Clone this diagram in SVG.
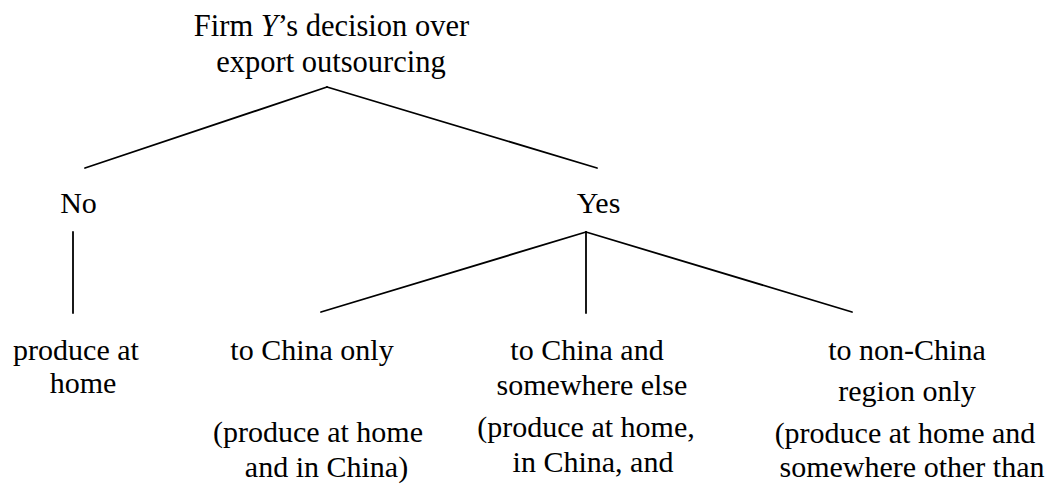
<svg xmlns="http://www.w3.org/2000/svg" width="1059" height="484" viewBox="0 0 1059 484">
<style>
text{font-family:"Liberation Serif","Times New Roman",serif;fill:#000;text-anchor:middle;font-size:30px}
.t{font-size:30.5px}
line{stroke:#000;stroke-width:1.8;stroke-linecap:round}
</style>
<rect width="1059" height="484" fill="#fff"/>
<g id="root">
<text class="t" x="331.5" y="36">Firm <tspan font-style="italic">Y</tspan>’s decision over</text>
<text class="t" x="331" y="72">export outsourcing</text>
</g>
<g id="no">
<text x="78.5" y="213">No</text>
</g>
<g id="yes">
<text x="598.5" y="213">Yes</text>
</g>
<g id="home">
<text x="76" y="360">produce at</text>
<text x="83" y="393">home</text>
</g>
<g id="china-only">
<text x="312" y="360">to China only</text>
<text x="318" y="442">(produce at home</text>
<text x="326.5" y="477">and in China)</text>
</g>
<g id="china-else">
<text x="587" y="360">to China and</text>
<text x="592" y="395">somewhere else</text>
<text x="586" y="437">(produce at home,</text>
<text x="593" y="472">in China, and</text>
</g>
<g id="non-china">
<text x="907" y="360">to non-China</text>
<text x="907" y="401">region only</text>
<text x="905" y="443">(produce at home and</text>
<text x="912" y="477">somewhere other than</text>
</g>
<g id="connectors">
<line x1="327" y1="87" x2="85" y2="168"/>
<line x1="327" y1="87" x2="597" y2="168"/>
<line x1="73" y1="232" x2="73" y2="313"/>
<line x1="586" y1="232" x2="321" y2="312"/>
<line x1="586" y1="232" x2="586" y2="313"/>
<line x1="586" y1="232" x2="852" y2="312"/>
</g>
</svg>
